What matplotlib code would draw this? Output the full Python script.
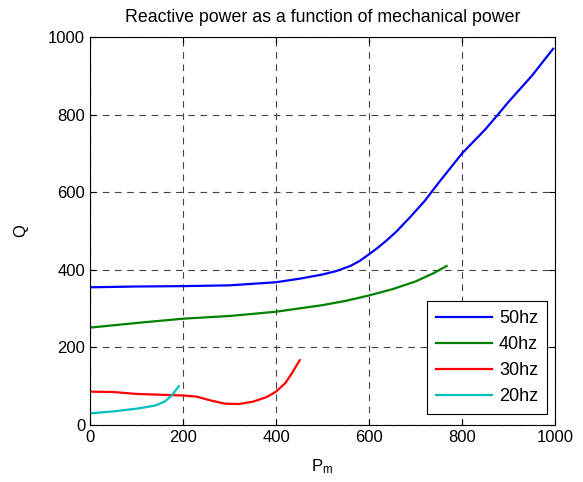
import matplotlib
matplotlib.use("Agg")
import matplotlib.pyplot as plt

# ----------------------------------------------------------------------------------------------------------------------
# Reactive power Q vs mechanical power Pm, one curve per supply frequency

pm_50 = [0, 100, 200, 300, 400, 450, 500, 530, 560, 580, 600, 620, 640, 660, 690, 720, 750, 800, 850, 877, 900, 950, 996]
q_50 = [355, 357, 358, 360, 368, 377, 388, 397, 410, 423, 440, 458, 478, 500, 538, 578, 625, 700, 762, 800, 833, 900, 970]

pm_40 = [0, 100, 200, 300, 400, 500, 550, 600, 650, 700, 740, 767]
q_40 = [251, 263, 274, 281, 292, 309, 320, 334, 350, 370, 392, 410]

pm_30 = [0, 50, 100, 150, 200, 230, 260, 290, 320, 350, 380, 400, 420, 435, 451]
q_30 = [86, 85, 80, 78, 76, 73, 63, 55, 54, 60, 72, 86, 108, 135, 167]

pm_20 = [0, 50, 100, 140, 160, 175, 191]
q_20 = [30, 35, 42, 50, 60, 75, 100]

labels = ["50hz", "40hz", "30hz", "20hz"]
colors = ["#0000ff", "#008000", "#ff0000", "#00bfbf"]

# ----------------------------------------------------------------------------------------------------------------------

plt.rcParams["font.family"] = ["Liberation Sans", "DejaVu Sans"]
plt.rcParams["mathtext.fontset"] = "custom"
plt.rcParams["mathtext.rm"] = "Liberation Sans"
plt.rcParams["mathtext.it"] = "Liberation Sans"

fig = plt.figure(figsize=(5.83, 4.82), dpi=100)
ax = fig.add_axes([0.1544, 0.1183, 0.7976, 0.8047])

series = [(pm_50, q_50), (pm_40, q_40), (pm_30, q_30), (pm_20, q_20)]
for (x, y), lab, col in zip(series, labels, colors):
    ax.plot(x, y, color=col, linewidth=1.6, label=lab)

ax.set_xlim(0, 1000)
ax.set_ylim(0, 1000)
ax.set_xticks(range(0, 1001, 200))
ax.set_yticks(range(0, 1001, 200))
ax.tick_params(direction="in", top=True, right=True, length=4, labelsize=12)
ax.grid(True, color="#444444", linestyle=(0, (6, 5)), linewidth=0.8)

ax.set_title("Reactive power as a function of mechanical power", fontsize=12.8, pad=11)
ax.set_xlabel("P$_\\mathregular{m}$", fontsize=12, labelpad=9)
ax.set_ylabel("Q", fontsize=12, labelpad=14)

# Legend box sits just inside the lower right corner
leg = ax.legend(loc="lower right", bbox_to_anchor=(0.983, 0.028), borderaxespad=0,
                fontsize=13, fancybox=False, framealpha=1, edgecolor="black",
                handlelength=3.1, handletextpad=0.4, labelspacing=0.5, borderpad=0.5)
leg.get_frame().set_linewidth(0.8)

fig.savefig("out.png", dpi=100)
